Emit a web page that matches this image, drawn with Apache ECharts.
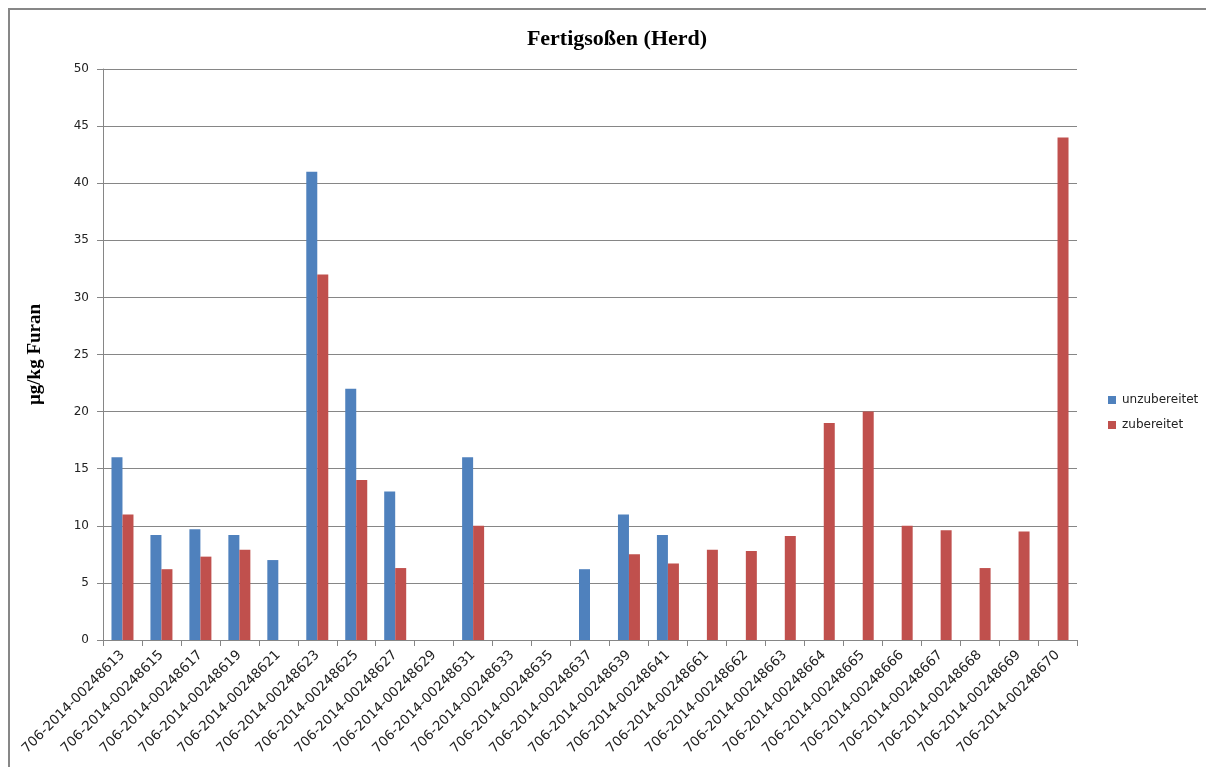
<!DOCTYPE html>
<html>
<head>
<meta charset="utf-8">
<title>Fertigsoßen (Herd)</title>
<script src="https://cdn.jsdelivr.net/npm/echarts@6/dist/echarts.min.js"></script>
<style>
  html, body { margin: 0; padding: 0; background: #ffffff; }
  #chart { width: 1206px; height: 767px; }
</style>
</head>
<body>
<div id="chart"></div>
<script>
// Sample IDs (x axis)
const categories = [
  '706-2014-00248613', '706-2014-00248615', '706-2014-00248617', '706-2014-00248619',
  '706-2014-00248621', '706-2014-00248623', '706-2014-00248625', '706-2014-00248627',
  '706-2014-00248629', '706-2014-00248631', '706-2014-00248633', '706-2014-00248635',
  '706-2014-00248637', '706-2014-00248639', '706-2014-00248641', '706-2014-00248661',
  '706-2014-00248662', '706-2014-00248663', '706-2014-00248664', '706-2014-00248665',
  '706-2014-00248666', '706-2014-00248667', '706-2014-00248668', '706-2014-00248669',
  '706-2014-00248670'
];

// Furan content in µg/kg, null = not measured
const unzubereitet = [
  16, 9.2, 9.7, 9.2, 7.0, 41, 22, 13, null, 16, null, null,
  6.2, 11, 9.2, null, null, null, null, null, null, null, null, null, null
];
const zubereitet = [
  11, 6.2, 7.3, 7.9, null, 32, 14, 6.3, null, 10, null, null,
  null, 7.5, 6.7, 7.9, 7.8, 9.1, 19, 20, 10, 9.6, 6.3, 9.5, 44
];

const seriesNames = ['unzubereitet', 'zubereitet'];
const seriesColors = ['#4F81BD', '#C0504D'];

const chart = echarts.init(document.getElementById('chart'), null, { renderer: 'canvas' });

const axisGray = '#868686';
const frameGray = '#878787';

chart.setOption({
  animation: false,
  backgroundColor: '#ffffff',
  title: {
    text: 'Fertigsoßen (Herd)',
    left: 612,
    top: 23,
    textAlign: 'center',
    textStyle: {
      fontFamily: 'Liberation Serif',
      fontWeight: 'bold',
      fontSize: 22,
      color: '#000000'
    }
  },
  // chart frame: top and left edges
  graphic: [
    {
      type: 'line',
      shape: { x1: 8, y1: 9, x2: 1206, y2: 9 },
      style: { stroke: frameGray, lineWidth: 2 },
      silent: true
    },
    {
      type: 'line',
      shape: { x1: 9, y1: 8, x2: 9, y2: 767 },
      style: { stroke: frameGray, lineWidth: 2 },
      silent: true
    }
  ],
  legend: {
    orient: 'vertical',
    left: 1103,
    top: 389,
    itemWidth: 8,
    itemHeight: 8,
    itemGap: 13,
    icon: 'rect',
    data: seriesNames,
    textStyle: {
      fontFamily: 'DejaVu Sans',
      fontSize: 12,
      color: '#222222',
      padding: [0, 0, 0, 1]
    }
  },
  grid: {
    left: 103,
    top: 69,
    width: 974,
    height: 571,
    containLabel: false
  },
  xAxis: {
    type: 'category',
    data: categories,
    axisLine: { lineStyle: { color: axisGray, width: 1 } },
    axisTick: { show: true, length: 6, lineStyle: { color: axisGray } },
    axisLabel: {
      rotate: 45,
      interval: 0,
      margin: 13,
      fontFamily: 'DejaVu Sans',
      fontSize: 13.5,
      color: '#222222'
    },
    splitLine: { show: false }
  },
  yAxis: {
    type: 'value',
    min: 0,
    max: 50,
    interval: 5,
    name: 'µg/kg Furan',
    nameLocation: 'middle',
    nameGap: 58,
    nameTextStyle: {
      fontFamily: 'Liberation Serif',
      fontWeight: 'bold',
      fontSize: 19,
      color: '#000000'
    },
    axisLine: { show: true, lineStyle: { color: axisGray, width: 1 } },
    axisTick: { show: true, length: 6, lineStyle: { color: axisGray } },
    axisLabel: {
      margin: 14,
      fontFamily: 'DejaVu Sans',
      fontSize: 12,
      color: '#222222'
    },
    splitLine: { show: true, lineStyle: { color: axisGray, width: 1 } }
  },
  series: [
    {
      name: seriesNames[0],
      type: 'bar',
      data: unzubereitet,
      barWidth: 11,
      barGap: '0%',
      itemStyle: { color: seriesColors[0] }
    },
    {
      name: seriesNames[1],
      type: 'bar',
      data: zubereitet,
      barWidth: 11,
      barGap: '0%',
      itemStyle: { color: seriesColors[1] }
    }
  ]
});
</script>
</body>
</html>
